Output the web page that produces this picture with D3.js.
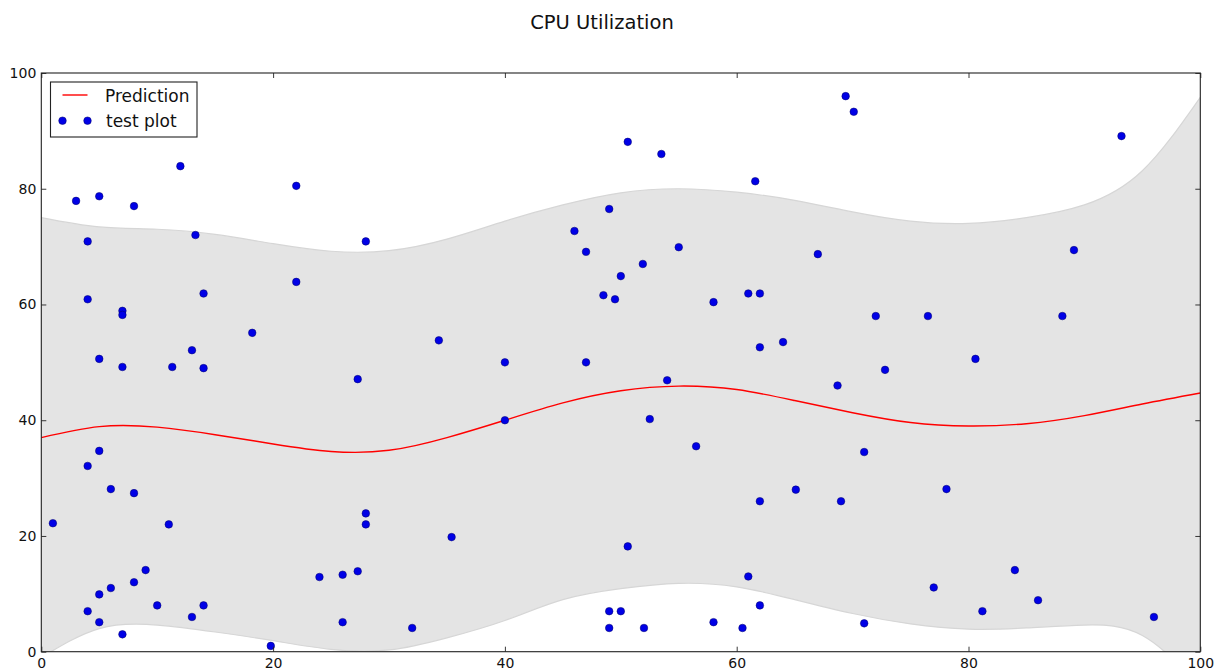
<!DOCTYPE html>
<html>
<head>
<meta charset="utf-8">
<script src="https://cdn.jsdelivr.net/npm/d3@7"></script>
<style>
  html, body { margin: 0; padding: 0; background: #fff; }
  svg { display: block; font-family: "DejaVu Sans", sans-serif; }
</style>
</head>
<body>
<svg id="chart" width="1221" height="669"></svg>
<script>
// Observed CPU utilization samples (time index, percent)
const sampleX = [1, 3, 4, 4, 4, 4, 5, 5, 5, 5, 5, 6, 6, 7, 7, 7, 7, 8, 8, 8, 9, 10, 11, 11.3, 12, 13, 13, 13.3, 14, 14, 14,
  18.2, 19.8, 22, 22, 24, 26, 26, 27.3, 27.3, 28, 28, 28, 32, 34.3, 35.4, 40, 40, 46, 47, 47, 48.5, 49, 49, 49, 49.5,
  50, 50, 50.6, 50.6, 51.9, 52, 52.5, 53.5, 54, 55, 56.5, 58, 58, 60.5, 61, 61, 61.6, 62, 62, 62, 62, 64, 65.1, 67,
  68.7, 69, 69.4, 70.1, 71, 71, 72, 72.8, 76.5, 77, 78.1, 80.6, 81.2, 84, 86, 88.1, 89.1, 93.2, 96];
const sampleY = [22.2, 77.9, 70.9, 60.9, 32.1, 7, 78.7, 50.6, 34.7, 9.9, 5.1, 28.1, 11, 58.9, 58.2, 49.2, 3, 77, 27.4, 12,
  14.1, 8, 22, 49.2, 83.9, 52.1, 6, 72, 61.9, 49, 8, 55.1, 1, 80.5, 63.9, 12.9, 13.3, 5.1, 47.1, 13.9, 70.9, 23.9, 22,
  4.1, 53.8, 19.8, 50, 40, 72.7, 69.1, 50, 61.6, 76.5, 7, 4.1, 60.9, 64.9, 7, 88.1, 18.2, 67, 4.1, 40.2, 86, 46.9,
  69.9, 35.5, 60.4, 5.1, 4.1, 61.9, 13, 81.3, 61.9, 52.6, 26, 8, 53.5, 28, 68.7, 46, 26, 96, 93.3, 34.5, 4.9, 58,
  48.7, 58, 11.1, 28.1, 50.6, 7, 14.1, 8.9, 58, 69.4, 89.1, 6];

// Model prediction and confidence band on a regular grid
const gridX = [0, 5, 10, 15, 20, 25, 30, 35, 40, 45, 50, 55, 60, 65, 70, 75, 80, 85, 90, 95, 100];
const predicted = [37.0, 38.9, 38.8, 37.5, 35.9, 34.6, 34.8, 37.0, 40.0, 43.0, 45.1, 45.9, 45.3, 43.4, 41.3, 39.6,
  39.0, 39.4, 40.8, 42.8, 44.7];
const upperBound = [75.0, 73.4, 73.0, 72.1, 70.5, 69.2, 69.3, 71.3, 74.4, 77.2, 79.3, 80.0, 79.4, 78.0, 76.0, 74.4,
  74.0, 75.0, 77.2, 83.1, 95.8];
const lowerBound = [-1.0, 4.0, 4.6, 3.4, 1.9, 0.4, 0.3, 2.4, 5.4, 9.0, 10.9, 11.8, 11.2, 9.0, 6.6, 4.8,
  3.9, 4.1, 4.6, 2.8, -6.2];

const xTicks = [0, 20, 40, 60, 80, 100];
const yTicks = [0, 20, 40, 60, 80, 100];

const chartTitle = "CPU Utilization";
const legendLabels = ["Prediction", "test plot"];

const svg = d3.select("#chart");
const plot = { left: 41.3, right: 1200.3, top: 73, bottom: 651.7 };

const x = d3.scaleLinear().domain([0, 100]).range([plot.left, plot.right]);
const y = d3.scaleLinear().domain([0, 100]).range([plot.bottom, plot.top]);

svg.append("defs").append("clipPath").attr("id", "plotClip")
  .append("rect")
  .attr("x", plot.left).attr("y", plot.top)
  .attr("width", plot.right - plot.left).attr("height", plot.bottom - plot.top);

const body = svg.append("g").attr("clip-path", "url(#plotClip)");

const bandData = gridX.map((d, i) => ({ x: d, lo: lowerBound[i], hi: upperBound[i] }));
const band = d3.area()
  .x(d => x(d.x))
  .y0(d => y(d.lo))
  .y1(d => y(d.hi))
  .curve(d3.curveNatural);

body.append("path")
  .datum(bandData)
  .attr("d", band)
  .attr("fill", "#e4e4e4")
  .attr("stroke", "#d6d6d6")
  .attr("stroke-width", 1.2);

const predLine = d3.line()
  .x((d, i) => x(gridX[i]))
  .y(d => y(d))
  .curve(d3.curveNatural);

body.append("path")
  .datum(predicted)
  .attr("d", predLine)
  .attr("fill", "none")
  .attr("stroke", "#ff0000")
  .attr("stroke-width", 1.4);

body.append("g").selectAll("circle")
  .data(sampleX.map((d, i) => [d, sampleY[i]]))
  .join("circle")
  .attr("cx", d => x(d[0]))
  .attr("cy", d => y(d[1]))
  .attr("r", 3.8)
  .attr("fill", "#0000e6")
  .attr("stroke", "#00006a")
  .attr("stroke-width", 0.5);

// Axes: labels on bottom/left, inward ticks on all four sides
const tickLen = 5;
const axisBottom = d3.axisBottom(x).tickValues(xTicks).tickSizeInner(-tickLen).tickSizeOuter(0).tickPadding(6)
  .tickFormat(d3.format("d"));
const axisLeft = d3.axisLeft(y).tickValues(yTicks).tickSizeInner(-tickLen).tickSizeOuter(0).tickPadding(5)
  .tickFormat(d3.format("d"));
const axisTop = d3.axisTop(x).tickValues(xTicks).tickSizeInner(-tickLen).tickSizeOuter(0).tickFormat("");
const axisRight = d3.axisRight(y).tickValues(yTicks).tickSizeInner(-tickLen).tickSizeOuter(0).tickFormat("");

function styleAxis(g) {
  g.select(".domain").remove();
  g.selectAll(".tick line").attr("stroke", "#222").attr("stroke-width", 0.9);
  g.selectAll(".tick text").attr("fill", "#111").attr("font-size", 14)
    .attr("font-family", "DejaVu Sans, sans-serif");
}

svg.append("g").attr("transform", `translate(0,${plot.bottom})`).call(axisBottom).call(styleAxis)
  .selectAll(".tick text").attr("dy", "0.72em");
svg.append("g").attr("transform", `translate(${plot.left},0)`).call(axisLeft).call(styleAxis);
svg.append("g").attr("transform", `translate(0,${plot.top})`).call(axisTop).call(styleAxis);
svg.append("g").attr("transform", `translate(${plot.right},0)`).call(axisRight).call(styleAxis);

// Frame around the plotting area
svg.append("rect")
  .attr("x", plot.left).attr("y", plot.top)
  .attr("width", plot.right - plot.left).attr("height", plot.bottom - plot.top)
  .attr("fill", "none")
  .attr("stroke", "#222")
  .attr("stroke-width", 1.1);

svg.append("text")
  .attr("x", 602)
  .attr("y", 29)
  .attr("text-anchor", "middle")
  .attr("font-size", 19.5)
  .attr("fill", "#111")
  .text(chartTitle);

// Legend
const legend = svg.append("g").attr("transform", "translate(50.5,82)");
legend.append("rect")
  .attr("width", 146.5).attr("height", 55)
  .attr("fill", "#fff")
  .attr("stroke", "#222")
  .attr("stroke-width", 1.1);
legend.append("line")
  .attr("x1", 12).attr("x2", 37).attr("y1", 13).attr("y2", 13)
  .attr("stroke", "#ff0000").attr("stroke-width", 1.4);
legend.append("text")
  .attr("x", 54.5).attr("y", 19.5)
  .attr("font-size", 17).attr("fill", "#111")
  .text(legendLabels[0]);
[12, 37].forEach(cx => {
  legend.append("circle")
    .attr("cx", cx).attr("cy", 38.7).attr("r", 3.8)
    .attr("fill", "#0000e6").attr("stroke", "#00006a").attr("stroke-width", 0.5);
});
legend.append("text")
  .attr("x", 55.5).attr("y", 44.5)
  .attr("font-size", 17).attr("fill", "#111")
  .text(legendLabels[1]);
</script>
</body>
</html>
